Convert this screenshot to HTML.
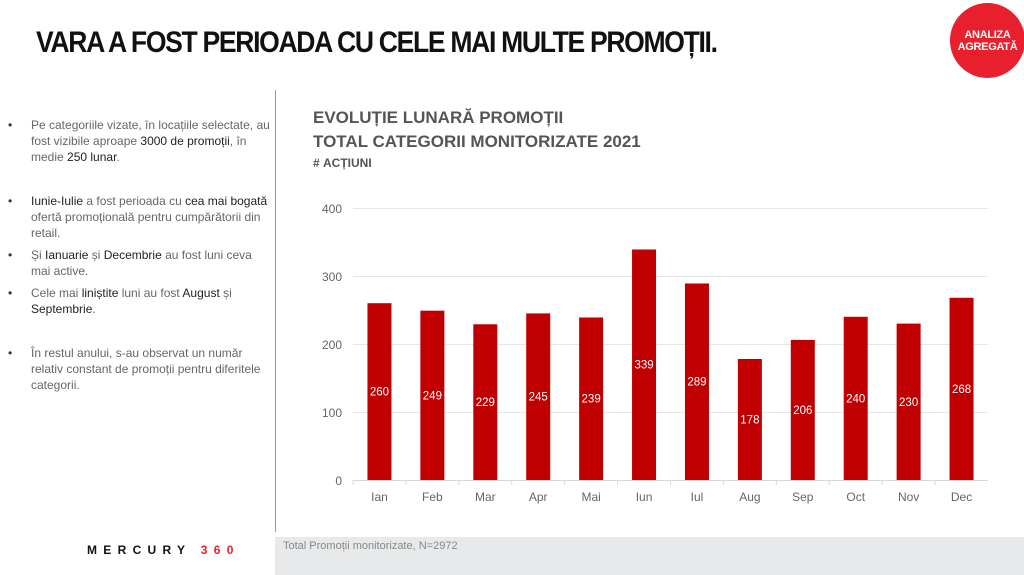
<!DOCTYPE html>
<html><head><meta charset="utf-8"><style>
body{margin:0;width:1024px;height:575px;background:#fff;position:relative;overflow:hidden;font-family:"Liberation Sans",sans-serif}
.t{position:absolute;left:36px;top:26px;font-size:30px;font-weight:bold;letter-spacing:-1.5px;transform:scaleX(0.885);transform-origin:left;color:#111;font-family:"Liberation Sans Narrow","Liberation Sans",sans-serif}
.badge{position:absolute;left:950px;top:3px;width:75px;height:75px;border-radius:50%;background:#e8202e;color:#fff;font-weight:bold;font-size:11px;text-align:center;line-height:12px;padding-top:26px;box-sizing:border-box;letter-spacing:-0.3px}
ul{position:absolute;left:8px;top:117px;width:262px;margin:0;padding:0;list-style:none;font-size:12px;color:#666;line-height:16px}
li{position:relative;padding-left:23px}
li:before{content:"•";position:absolute;left:0;color:#333}
b{font-weight:normal;color:#222}
.st{position:absolute;left:313px;color:#555;font-weight:bold}
.band{position:absolute;left:275px;top:537px;width:749px;height:38px;background:#e8e9ea}
</style></head><body>
<div class="t">VARA A FOST PERIOADA CU CELE MAI MULTE PROMOȚII.</div>
<div class="badge">ANALIZA<br>AGREGATĂ</div>
<ul>
<li style="margin-bottom:28px">Pe categoriile vizate, în locațiile selectate, au fost vizibile aproape <b>3000 de promoții</b>, în medie <b>250 lunar</b>.</li>
<li style="margin-bottom:6px"><b>Iunie-Iulie</b> a fost perioada cu <b>cea mai bogată</b> ofertă promoțională pentru cumpărătorii din retail.</li>
<li style="margin-bottom:6px">Și <b>Ianuarie</b> și <b>Decembrie</b> au fost luni ceva mai active.</li>
<li style="margin-bottom:28px">Cele mai <b>liniștite</b> luni au fost <b>August</b> și <b>Septembrie</b>.</li>
<li>În restul anului, s-au observat un număr relativ constant de promoții pentru diferitele categorii.</li>
</ul>
<div style="position:absolute;left:275px;top:90px;width:1px;height:442px;background:#e07a86"></div>
<div class="st" style="top:108px;font-size:17px">EVOLUȚIE LUNARĂ PROMOȚII</div>
<div class="st" style="top:132px;font-size:17px">TOTAL CATEGORII MONITORIZATE 2021</div>
<div class="st" style="top:156px;font-size:12px">#&nbsp;ACȚIUNI</div>
<svg style="position:absolute;left:0;top:0" width="1024" height="575" font-family="Liberation Sans, sans-serif">
<g stroke="#e6e6e6" stroke-width="1">
<line x1="353" x2="988" y1="208.5" y2="208.5"/><line x1="353" x2="988" y1="276.5" y2="276.5"/><line x1="353" x2="988" y1="344.5" y2="344.5"/><line x1="353" x2="988" y1="412.5" y2="412.5"/><line x1="353" x2="988" y1="480.5" y2="480.5" stroke="#d9d9d9"/>
</g>
<g font-size="12" fill="#666" text-anchor="end"><text x="342" y="213">400</text><text x="342" y="281">300</text><text x="342" y="349">200</text><text x="342" y="417">100</text><text x="342" y="485">0</text></g>
<g id="bars"></g>
</svg>
<div class="band"></div>
<div style="position:absolute;left:283px;top:540px;font-size:11px;color:#888">Total Promoții monitorizate, N=2972</div>
<div style="position:absolute;left:87px;top:543px;font-size:12px;font-weight:bold;letter-spacing:6.3px;color:#111">MERCURY <span style="color:#e8202e">360</span></div>
<script>
var v=[260,249,229,245,239,339,289,178,206,240,230,268],m=["Ian","Feb","Mar","Apr","Mai","Iun","Iul","Aug","Sep","Oct","Nov","Dec"],s="",w=(988-353)/12;
for(var i=0;i<12;i++){var c=353+w*i+w/2,h=v[i]*0.68,y=480-h;
s+='<rect x="'+(c-12)+'" y="'+y+'" width="24" height="'+h+'" fill="#c00000"/>';
s+='<text x="'+c+'" y="'+(y+h/2+4)+'" fill="#fff" font-size="11.5" text-anchor="middle">'+v[i]+'</text>';
s+='<text x="'+c+'" y="501" fill="#666" font-size="12" text-anchor="middle">'+m[i]+'</text>';
s+='<line x1="'+(353+w*i)+'" x2="'+(353+w*i)+'" y1="480" y2="485" stroke="#d9d9d9"/>';}
document.getElementById("bars").innerHTML=s;
</script>
</body></html>
